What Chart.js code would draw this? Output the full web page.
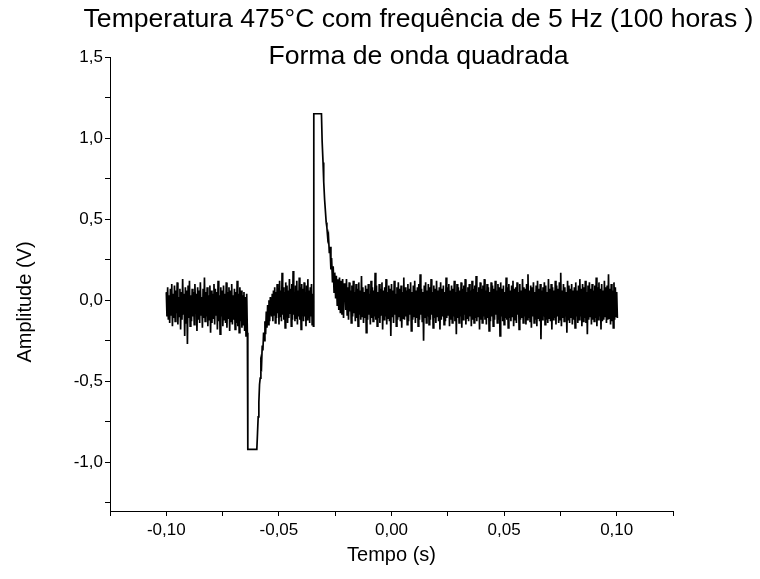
<!DOCTYPE html>
<html lang="pt">
<head>
<meta charset="utf-8">
<title>Forma de onda quadrada</title>
<script src="https://cdn.jsdelivr.net/npm/chart.js@4.4.1/dist/chart.umd.min.js"></script>
<style>
  body { margin: 0; background: #fff; }
  #grafico { display: block; }
</style>
</head>
<body>
<canvas id="grafico" width="760" height="579"></canvas>
<script>
const titulo = ['Temperatura 475°C com frequência de 5 Hz (100 horas )', 'Forma de onda quadrada'];
const tituloX = 'Tempo (s)';
const tituloY = 'Amplitude (V)';

// ticks com rótulo
const rotulosX = [-0.10, -0.05, 0.00, 0.05, 0.10];
const rotulosY = [-1.0, -0.5, 0.0, 0.5, 1.0, 1.5];

// ruído antes da queda (s)
const ruido1Inicio = -0.1000, ruido1Fim = -0.0640;
const ruido1 = [
  0.05,-0.10,0.08,-0.12,0.03,-0.14,0.07,-0.09,0.10,-0.16,0.04,-0.11,0.09,-0.13,0.06,-0.08,0.11,-0.15,0.02,-0.10,
  0.07,-0.18,0.05,-0.12,0.13,-0.09,0.04,-0.22,0.08,-0.14,0.06,-0.27,0.09,-0.11,0.12,-0.16,0.03,-0.13,0.07,-0.10,
  0.05,-0.15,0.10,-0.08,0.04,-0.19,0.08,-0.12,0.06,-0.14,0.11,-0.09,0.02,-0.17,0.07,-0.11,0.14,-0.13,0.05,-0.10,
  0.08,-0.16,0.03,-0.12,0.09,-0.20,0.06,-0.14,0.04,-0.11,0.10,-0.15,0.07,-0.09,0.05,-0.18,0.12,-0.13,0.03,-0.21,
  0.08,-0.10,0.06,-0.16,0.09,-0.12,0.04,-0.14,0.11,-0.17,0.05,-0.11,0.08,-0.19,0.06,-0.13,0.10,-0.15,0.03,-0.12,
  0.07,-0.18,0.05,-0.14,0.12,-0.16,0.04,-0.20,0.08,-0.13,0.06,-0.17,0.03,-0.15,0.05,-0.19,0.02,-0.22,0.04,-0.20
];

// queda negativa e recuperação
const quedaTempo = [-0.0638,-0.0598,-0.0595,-0.0592,-0.0589,-0.0586,-0.0583,-0.0580,-0.0577,-0.0574,-0.0571,
  -0.0568,-0.0565,-0.0562,-0.0559,-0.0556,-0.0553,-0.0550,-0.0547,-0.0544,-0.0541,-0.0538];
const quedaAmp = [-0.92,-0.92,-0.82,-0.72,-0.63,-0.52,-0.48,-0.38,-0.40,-0.28,-0.31,
  -0.20,-0.25,-0.13,-0.21,-0.07,-0.17,-0.03,-0.15,0.00,-0.13,0.02];

// ruído entre a queda e o pico
const ruido2Inicio = -0.0535, ruido2Fim = -0.0347;
const ruido2 = [
  -0.02,-0.10,0.04,-0.13,0.06,-0.09,0.08,-0.14,0.05,-0.11,0.10,-0.08,0.07,-0.15,0.12,-0.10,0.06,-0.13,0.17,-0.09,
  0.08,-0.12,0.05,-0.17,0.11,-0.10,0.09,-0.14,0.06,-0.11,0.13,-0.08,0.07,-0.16,0.10,-0.12,0.18,-0.09,0.05,-0.13,
  0.09,-0.11,0.12,-0.15,0.06,-0.10,0.14,-0.12,0.08,-0.18,0.10,-0.09,0.07,-0.13,0.11,-0.10,0.05,-0.16,0.09,-0.12,
  0.13,-0.11,0.06,-0.14,0.08,-0.10,0.10,-0.15,0.04,-0.16
];

// pico positivo e decaimento
const picoTempo = [-0.0345,-0.0311,-0.0308,-0.0304,-0.0301,-0.0297,-0.0294,-0.0290,-0.0287,-0.0283,-0.0280,
  -0.0276,-0.0273,-0.0269,-0.0266,-0.0262,-0.0259,-0.0255,-0.0252,-0.0248,-0.0245,-0.0241,-0.0238,-0.0234,
  -0.0231,-0.0227,-0.0224,-0.0220,-0.0217,-0.0213,-0.0210];
const picoAmp = [1.15,1.15,0.98,0.85,0.73,0.62,0.56,0.48,0.45,0.38,0.40,
  0.29,0.33,0.19,0.26,0.11,0.21,0.05,0.17,0.01,0.15,-0.03,0.13,-0.06,
  0.14,-0.08,0.12,-0.09,0.13,-0.11,0.10];

// ruído depois do pico
const ruido3Inicio = -0.0206, ruido3Fim = 0.1003;
const ruido3 = [
  0.10,-0.06,0.13,-0.09,0.08,-0.12,0.11,-0.07,0.06,-0.14,0.09,-0.10,0.12,-0.08,0.05,-0.13,0.10,-0.11,0.07,-0.16,
  0.11,-0.09,0.06,-0.12,0.15,-0.10,0.08,-0.14,0.05,-0.11,0.09,-0.20,0.07,-0.12,0.10,-0.09,0.04,-0.15,0.12,-0.11,
  0.08,-0.13,0.06,-0.10,0.17,-0.12,0.09,-0.16,0.05,-0.11,0.10,-0.14,0.07,-0.09,0.11,-0.18,0.06,-0.12,0.08,-0.10,
  0.13,-0.15,0.05,-0.11,0.09,-0.13,0.07,-0.22,0.10,-0.10,0.06,-0.14,0.12,-0.09,0.04,-0.16,0.08,-0.12,0.11,-0.10,
  0.07,-0.13,0.09,-0.17,0.05,-0.11,0.14,-0.12,0.08,-0.10,0.06,-0.15,0.10,-0.13,0.07,-0.09,0.11,-0.19,0.05,-0.12,
  0.09,-0.10,0.12,-0.14,0.06,-0.11,0.08,-0.16,0.10,-0.12,0.16,-0.09,0.07,-0.13,0.05,-0.25,0.09,-0.11,0.11,-0.14,
  0.06,-0.10,0.10,-0.15,0.08,-0.12,0.13,-0.09,0.05,-0.17,0.09,-0.11,0.07,-0.14,0.12,-0.10,0.06,-0.13,0.08,-0.18,
  0.11,-0.12,0.07,-0.10,0.09,-0.15,0.05,-0.13,0.14,-0.11,0.08,-0.09,0.10,-0.16,0.06,-0.12,0.09,-0.14,0.07,-0.10,
  0.12,-0.13,0.05,-0.21,0.10,-0.11,0.08,-0.14,0.06,-0.10,0.11,-0.17,0.07,-0.12,0.09,-0.09,0.13,-0.15,0.05,-0.11,
  0.08,-0.13,0.10,-0.10,0.06,-0.16,0.12,-0.12,0.07,-0.14,0.09,-0.11,0.15,-0.13,0.05,-0.10,0.08,-0.18,0.11,-0.12,
  0.07,-0.14,0.09,-0.10,0.13,-0.12,0.06,-0.15,0.10,-0.11,0.08,-0.19,0.05,-0.13,0.11,-0.10,0.09,-0.16,0.07,-0.12,
  0.12,-0.09,0.06,-0.14,0.10,-0.12,0.08,-0.22,0.11,-0.10,0.07,-0.13,0.09,-0.15,0.05,-0.11,0.14,-0.12,0.08,-0.17,
  0.10,-0.11,0.06,-0.13,0.09,-0.10,0.12,-0.16,0.07,-0.12,0.08,-0.14,0.11,-0.09,0.05,-0.18,0.10,-0.12,0.06,-0.11,
  0.13,-0.14,0.08,-0.10,0.07,-0.15,0.10,-0.12,0.16,-0.11,0.06,-0.13,0.09,-0.17,0.08,-0.10,0.11,-0.14,0.05,-0.12,
  0.09,-0.16,0.12,-0.11,0.07,-0.13,0.10,-0.24,0.06,-0.12,0.08,-0.10,0.11,-0.15,0.09,-0.12,0.05,-0.14,0.13,-0.11,
  0.07,-0.13,0.10,-0.18,0.08,-0.12,0.06,-0.11,0.12,-0.15,0.09,-0.10,0.07,-0.14,0.11,-0.12,0.17,-0.16,0.06,-0.11,
  0.10,-0.13,0.08,-0.10,0.05,-0.20,0.12,-0.12,0.09,-0.14,0.07,-0.11,0.10,-0.15,0.06,-0.12,0.08,-0.17,0.11,-0.10,
  0.06,-0.14,0.09,-0.12,0.13,-0.10,0.07,-0.16,0.10,-0.13,0.08,-0.11,0.12,-0.14,0.05,-0.21,0.09,-0.12,0.11,-0.10,
  0.07,-0.15,0.10,-0.12,0.06,-0.13,0.09,-0.11,0.14,-0.16,0.08,-0.12,0.11,-0.10,0.07,-0.18,0.10,-0.13,0.06,-0.12,
  0.12,-0.10,0.08,-0.14,0.09,-0.12,0.16,-0.11,0.07,-0.15,0.10,-0.13,0.06,-0.17,0.11,-0.12,0.08,-0.10,0.05,-0.11
];

// monta a série (amostras do ruído igualmente espaçadas no tempo)
const pontos = [];
function addRuido(inicio, fim, valores) {
  const passo = (fim - inicio) / (valores.length - 1);
  valores.forEach((v, i) => pontos.push({ x: inicio + i * passo, y: v }));
}
function addPares(tempos, amps) {
  tempos.forEach((t, i) => pontos.push({ x: t, y: amps[i] }));
}
addRuido(ruido1Inicio, ruido1Fim, ruido1);
addPares(quedaTempo, quedaAmp);
addRuido(ruido2Inicio, ruido2Fim, ruido2);
addPares(picoTempo, picoAmp);
addRuido(ruido3Inicio, ruido3Fim, ruido3);

const fonte = '"Liberation Sans", Arial, sans-serif';

function temRotulo(v, lista) {
  return lista.some(r => Math.abs(r - v) < 1e-9);
}

// titulo em duas linhas e titulo do eixo Y, desenhados à mão
// (no original nenhum dos dois fica centrado no eixo)
const titulosPlugin = {
  id: 'titulos',
  afterDraw(chart) {
    const ctx = chart.ctx;
    const area = chart.chartArea;
    const cx = (area.left + area.right) / 2 + 27;
    ctx.save();
    ctx.fillStyle = '#000';
    ctx.textAlign = 'center';
    ctx.textBaseline = 'middle';
    ctx.font = '26.6px ' + fonte;
    titulo.forEach((linha, i) => ctx.fillText(linha, cx, 20 + i * 37));

    ctx.font = '20px ' + fonte;
    ctx.translate(25, (area.top + area.bottom) / 2 + 18);
    ctx.rotate(-Math.PI / 2);
    ctx.fillText(tituloY, 0, 0);
    ctx.restore();
  }
};

const ctx = document.getElementById('grafico').getContext('2d');
new Chart(ctx, {
  type: 'line',
  data: {
    datasets: [{
      data: pontos,
      borderColor: '#000',
      borderWidth: 1.7,
      pointRadius: 0,
      tension: 0,
      fill: false
    }]
  },
  options: {
    responsive: false,
    animation: false,
    layout: { padding: { top: 57, right: 87, bottom: 0, left: 0 } },
    plugins: {
      legend: { display: false },
      tooltip: { enabled: false },
      title: { display: false }
    },
    scales: {
      x: {
        type: 'linear',
        min: -0.125,
        max: 0.125,
        afterFit(scale) { scale.height = 68; },
        border: { color: '#000', width: 1 },
        grid: { drawOnChartArea: false, color: '#000', tickLength: 5 },
        ticks: {
          stepSize: 0.025,
          autoSkip: false,
          maxRotation: 0,
          padding: 4,
          color: '#000',
          font: { family: fonte, size: 17 },
          callback: v => temRotulo(v, rotulosX) ? v.toFixed(2).replace('.', ',') : ''
        },
        title: {
          display: true,
          text: tituloX,
          color: '#000',
          font: { family: fonte, size: 20 },
          padding: { top: 0, bottom: 12 }
        }
      },
      y: {
        min: -1.3,
        max: 1.5,
        afterFit(scale) { scale.width = 110; },
        border: { color: '#000', width: 1 },
        grid: { drawOnChartArea: false, color: '#000', tickLength: 5 },
        ticks: {
          stepSize: 0.25,
          includeBounds: false,
          autoSkip: false,
          padding: 2,
          color: '#000',
          font: { family: fonte, size: 17 },
          callback: v => temRotulo(v, rotulosY) ? v.toFixed(1).replace('.', ',') : ''
        }
      }
    }
  },
  plugins: [titulosPlugin]
});
</script>
</body>
</html>
